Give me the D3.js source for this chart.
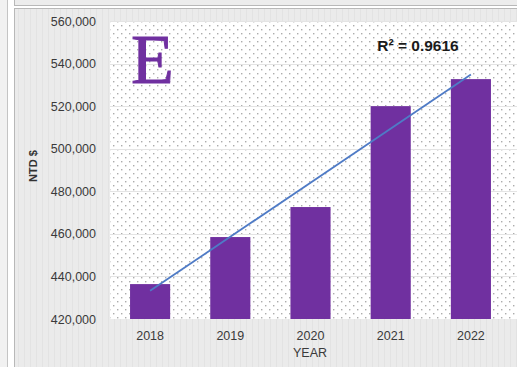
<!DOCTYPE html>
<html>
<head>
<meta charset="utf-8">
<script src="https://cdn.jsdelivr.net/npm/d3@7"></script>
<style>
  html, body { margin: 0; padding: 0; background: #ffffff; }
  svg { display: block; font-family: "Liberation Sans", Arial, sans-serif; }
</style>
</head>
<body>
<svg id="chart" width="517" height="367"></svg>
<script>
// Annual amounts (NTD $) by year
const years = ["2018", "2019", "2020", "2021", "2022"];
const amounts = [436400, 458500, 472600, 520000, 532700];
const yTicks = [420000, 440000, 460000, 480000, 500000, 520000, 540000, 560000];
const r2Label = "R\u00B2 = 0.9616";
const yTitle = "NTD $";
const xTitle = "YEAR";
const logoLetter = "E";

const W = 517, H = 367;
const plot = { left: 110, right: 511, top: 21, bottom: 319 };

const svg = d3.select("#chart");
const defs = svg.append("defs");

// dotted fill for the plot area
const pat = defs.append("pattern")
  .attr("id", "dots").attr("patternUnits", "userSpaceOnUse")
  .attr("width", 8).attr("height", 8);
pat.append("rect").attr("width", 8).attr("height", 8).attr("fill", "#ffffff");
pat.append("rect").attr("x", 1).attr("y", 1).attr("width", 1.4).attr("height", 1.4).attr("fill", "#acacac");
pat.append("rect").attr("x", 5).attr("y", 5).attr("width", 1.4).attr("height", 1.4).attr("fill", "#acacac");

// faint vertical striping of the chart background
const bgPat = defs.append("pattern")
  .attr("id", "stripes").attr("patternUnits", "userSpaceOnUse")
  .attr("width", 6).attr("height", 6);
bgPat.append("rect").attr("width", 6).attr("height", 6).attr("fill", "#ebebeb");
bgPat.append("rect").attr("x", 0).attr("width", 1).attr("height", 6).attr("fill", "#e3e3e3");

// surrounding frame
svg.append("rect").attr("x", 0).attr("y", 0).attr("width", 7).attr("height", H).attr("fill", "#f1f1f1");
svg.append("line").attr("x1", 7.5).attr("x2", 7.5).attr("y1", 0).attr("y2", H).attr("stroke", "#c4c4c4");
svg.append("rect").attr("x", 14.5).attr("y", -1).attr("width", W).attr("height", 6.5)
  .attr("fill", "#ececec").attr("stroke", "#b8b8b8");
svg.append("rect").attr("x", 14.5).attr("y", 8.5).attr("width", W).attr("height", H)
  .attr("fill", "url(#stripes)").attr("stroke", "#b8b8b8");

// plot area
svg.append("rect")
  .attr("x", plot.left).attr("y", plot.top)
  .attr("width", W - plot.left).attr("height", plot.bottom - plot.top)
  .attr("fill", "url(#dots)");

const x = d3.scaleBand().domain(years).range([plot.left, plot.right]).paddingInner(0.5).paddingOuter(0.25);
const y = d3.scaleLinear().domain([420000, 560000]).range([plot.bottom, plot.top]);

// horizontal gridlines
svg.append("g").selectAll("line").data(yTicks.slice(1)).join("line")
  .attr("x1", plot.left).attr("x2", W)
  .attr("y1", d => Math.round(y(d)) + 0.5).attr("y2", d => Math.round(y(d)) + 0.5)
  .attr("stroke", "#e4e4e4").attr("stroke-width", 1);

const labelFont = "'Liberation Sans', Arial, sans-serif";

// y axis labels
const yAxis = d3.axisLeft(y).tickValues(yTicks).tickFormat(d3.format(",")).tickSize(0).tickPadding(0);
const yg = svg.append("g").attr("transform", `translate(${96},0)`).call(yAxis);
yg.select(".domain").remove();
yg.attr("font-family", labelFont).attr("font-size", 12.5);
yg.selectAll("text").attr("fill", "#3a3a3a");

// x axis labels
const xAxis = d3.axisBottom(x).tickSize(0).tickPadding(0);
const xg = svg.append("g").attr("transform", `translate(0,${plot.bottom + 12})`).call(xAxis);
xg.select(".domain").remove();
xg.attr("font-family", labelFont).attr("font-size", 12.5);
xg.selectAll("text").attr("fill", "#3a3a3a");

// bars
svg.append("g").selectAll("rect").data(years).join("rect")
  .attr("x", d => x(d))
  .attr("width", x.bandwidth())
  .attr("y", (d, i) => y(amounts[i]))
  .attr("height", (d, i) => plot.bottom - y(amounts[i]))
  .attr("fill", "#7030a0");

// least-squares linear trendline
const n = amounts.length;
const xs = d3.range(1, n + 1);
const mx = d3.mean(xs), my = d3.mean(amounts);
const slope = d3.sum(xs, (v, i) => (v - mx) * (amounts[i] - my)) / d3.sum(xs, v => (v - mx) ** 2);
const intercept = my - slope * mx;
const cx = d => x(d) + x.bandwidth() / 2;
svg.append("line")
  .attr("x1", cx(years[0])).attr("y1", y(intercept + slope * 1))
  .attr("x2", cx(years[n - 1])).attr("y2", y(intercept + slope * n))
  .attr("stroke", "#4f7bc6").attr("stroke-width", 1.8);

// R² annotation
svg.append("text")
  .attr("x", 418).attr("y", 51)
  .attr("text-anchor", "middle")
  .style("font-family", labelFont)
  .attr("font-size", 15.5).attr("font-weight", "bold").attr("fill", "#1a1a1a")
  .text(r2Label);

// logo letter
svg.append("text")
  .attr("x", 152.5).attr("y", 83)
  .attr("text-anchor", "middle")
  .style("font-family", "'Liberation Serif', 'DejaVu Serif', serif")
  .attr("font-size", 70).attr("fill", "#7030a0")
  .attr("stroke", "#7030a0").attr("stroke-width", 1)
  .text(logoLetter);

// axis titles
svg.append("text")
  .attr("transform", `translate(37,166) rotate(-90)`)
  .attr("text-anchor", "middle")
  .style("font-family", labelFont)
  .attr("font-size", 11).attr("font-weight", "bold").attr("fill", "#333")
  .text(yTitle);
svg.append("text")
  .attr("x", 310).attr("y", 357)
  .attr("text-anchor", "middle")
  .style("font-family", labelFont)
  .attr("font-size", 12.5).attr("fill", "#3a3a3a")
  .text(xTitle);
</script>
</body>
</html>
